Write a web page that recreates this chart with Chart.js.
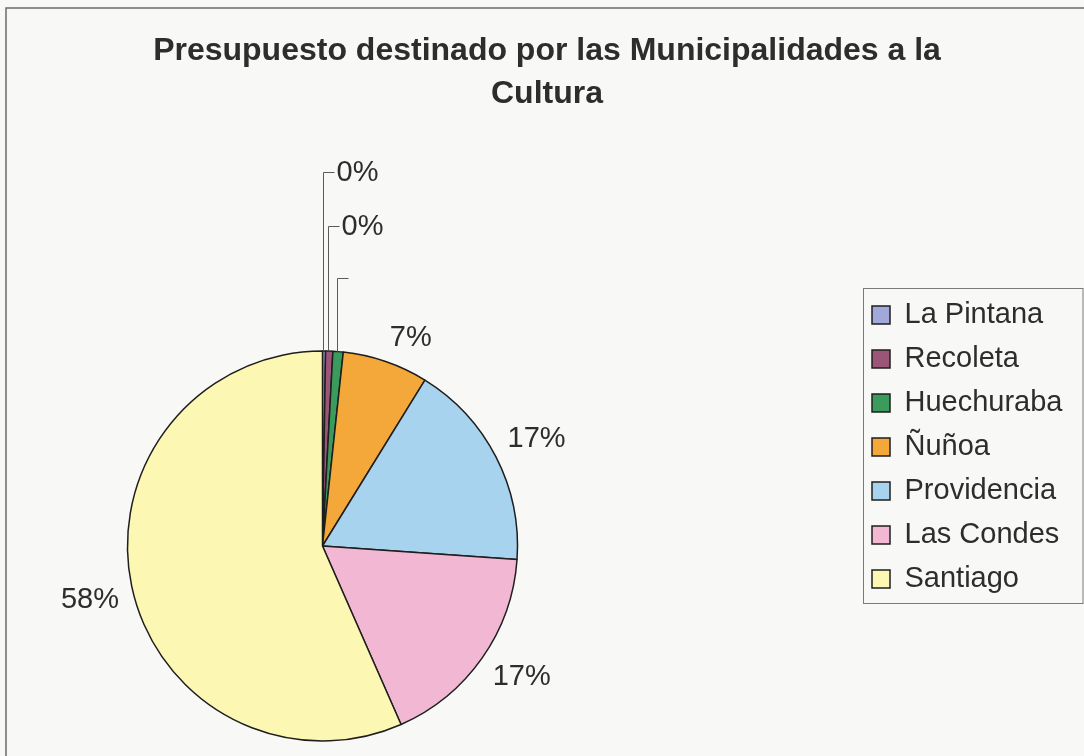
<!DOCTYPE html>
<html>
<head>
<meta charset="utf-8">
<script src="https://cdn.jsdelivr.net/npm/chart.js@4"></script>
<style>
  html, body { margin: 0; padding: 0; background: #F8F9F6; }
  canvas { display: block; }
</style>
</head>
<body>
<canvas id="c" width="1084" height="756"></canvas>
<script>
// ---- data ----
const categories = ['La Pintana', 'Recoleta', 'Huechuraba', 'Ñuñoa', 'Providencia', 'Las Condes', 'Santiago'];
const shares = [0.25, 0.6, 0.85, 7.1, 17.3, 17.3, 56.6];
const pctLabels = ['0%', '0%', '', '7%', '17%', '17%', '58%'];
const titleLines = ['Presupuesto destinado por las Municipalidades a la', 'Cultura'];
const sliceColors = ['#A3A8DA', '#9B5577', '#3A9B5C', '#F4A83A', '#A8D3EF', '#F2B8D3', '#FCF7B2'];

// ---- style / layout ----
const FONT = '"Liberation Sans", Arial, Helvetica, sans-serif';
const TEXT = '#2d2d2d';
const PIE = { cx: 322.5, cy: 546, r: 195 };
const LEGEND = { left: 857, top: 277, bottom: 617 };
const LEGEND_FRAME = { l: 863.5, t: 288.5, r: 1083, b: 603.5 };
const leaderRise = [179, 125, 73];

const fixedLayout = {
  id: 'fixedLayout',
  afterLayout(chart) {
    const half = PIE.r + 0.75;
    chart.chartArea = {
      left: PIE.cx - half, right: PIE.cx + half,
      top: PIE.cy - half, bottom: PIE.cy + half,
      width: 2 * half, height: 2 * half
    };
    const lg = chart.legend;
    const w = lg.width;
    lg.left = LEGEND.left; lg.right = LEGEND.left + w;
    lg.top = LEGEND.top; lg.bottom = LEGEND.bottom;
    lg.height = LEGEND.bottom - LEGEND.top;
  },
  beforeDraw(chart) {
    const ctx = chart.ctx;
    ctx.save();
    ctx.fillStyle = '#F8F9F6';
    ctx.fillRect(0, 0, chart.width, chart.height);
    ctx.strokeStyle = '#6a6a6a';
    ctx.lineWidth = 1.5;
    ctx.beginPath();
    ctx.moveTo(6, chart.height);
    ctx.lineTo(6, 8);
    ctx.lineTo(chart.width, 8);
    ctx.stroke();
    ctx.strokeStyle = '#7a7a7a';
    ctx.lineWidth = 1;
    ctx.strokeRect(LEGEND_FRAME.l, LEGEND_FRAME.t, LEGEND_FRAME.r - LEGEND_FRAME.l, LEGEND_FRAME.b - LEGEND_FRAME.t);
    ctx.restore();
  }
};

const pieLabels = {
  id: 'pieLabels',
  afterDatasetsDraw(chart) {
    const ctx = chart.ctx;
    const meta = chart.getDatasetMeta(0);
    ctx.save();
    ctx.font = '29px ' + FONT;
    ctx.fillStyle = TEXT;
    ctx.textBaseline = 'middle';
    meta.data.forEach((arc, i) => {
      const p = arc.getProps(['x', 'y', 'startAngle', 'endAngle', 'outerRadius'], true);
      const mid = (p.startAngle + p.endAngle) / 2;
      const dx = Math.cos(mid), dy = Math.sin(mid);
      const text = pctLabels[i];
      if (i < leaderRise.length) {
        const sx = Math.round(p.x + p.outerRadius * dx) - 0.5;
        const sy = p.y + p.outerRadius * dy;
        const ly = Math.round(p.y - p.outerRadius - leaderRise[i]) + 0.5;
        ctx.strokeStyle = '#5a5a5a';
        ctx.lineWidth = 1;
        ctx.beginPath();
        ctx.moveTo(sx, sy);
        ctx.lineTo(sx, ly);
        ctx.lineTo(sx + 11, ly);
        ctx.stroke();
        if (text) {
          ctx.textAlign = 'left';
          ctx.fillText(text, sx + 13, ly);
        }
      } else {
        const ax = p.x + (p.outerRadius + 13) * dx;
        const ay = p.y + (p.outerRadius + 13) * dy;
        const w = ctx.measureText(text).width;
        const h = 23;
        ctx.textAlign = 'center';
        ctx.fillText(text, ax + Math.sign(dx) * w / 2, ay + Math.sign(dy) * h / 2);
      }
    });
    ctx.restore();
  }
};

new Chart(document.getElementById('c'), {
  type: 'pie',
  data: {
    labels: categories,
    datasets: [{
      data: shares,
      backgroundColor: sliceColors,
      borderColor: '#1e1e1e',
      borderWidth: 1.5
    }]
  },
  options: {
    responsive: false,
    animation: false,
    devicePixelRatio: 1,
    events: [],
    layout: { padding: { left: 10 } },
    plugins: {
      title: {
        display: true,
        text: titleLines,
        color: TEXT,
        font: { family: FONT, size: 32, weight: 'bold', lineHeight: 1.34 },
        padding: { top: 30, bottom: 0 }
      },
      legend: {
        display: true,
        position: 'right',
        align: 'center',
        labels: {
          color: TEXT,
          font: { family: FONT, size: 29 },
          boxWidth: 18,
          boxHeight: 18,
          padding: 15
        }
      },
      tooltip: { enabled: false }
    }
  },
  plugins: [fixedLayout, pieLabels]
});
</script>
</body>
</html>
